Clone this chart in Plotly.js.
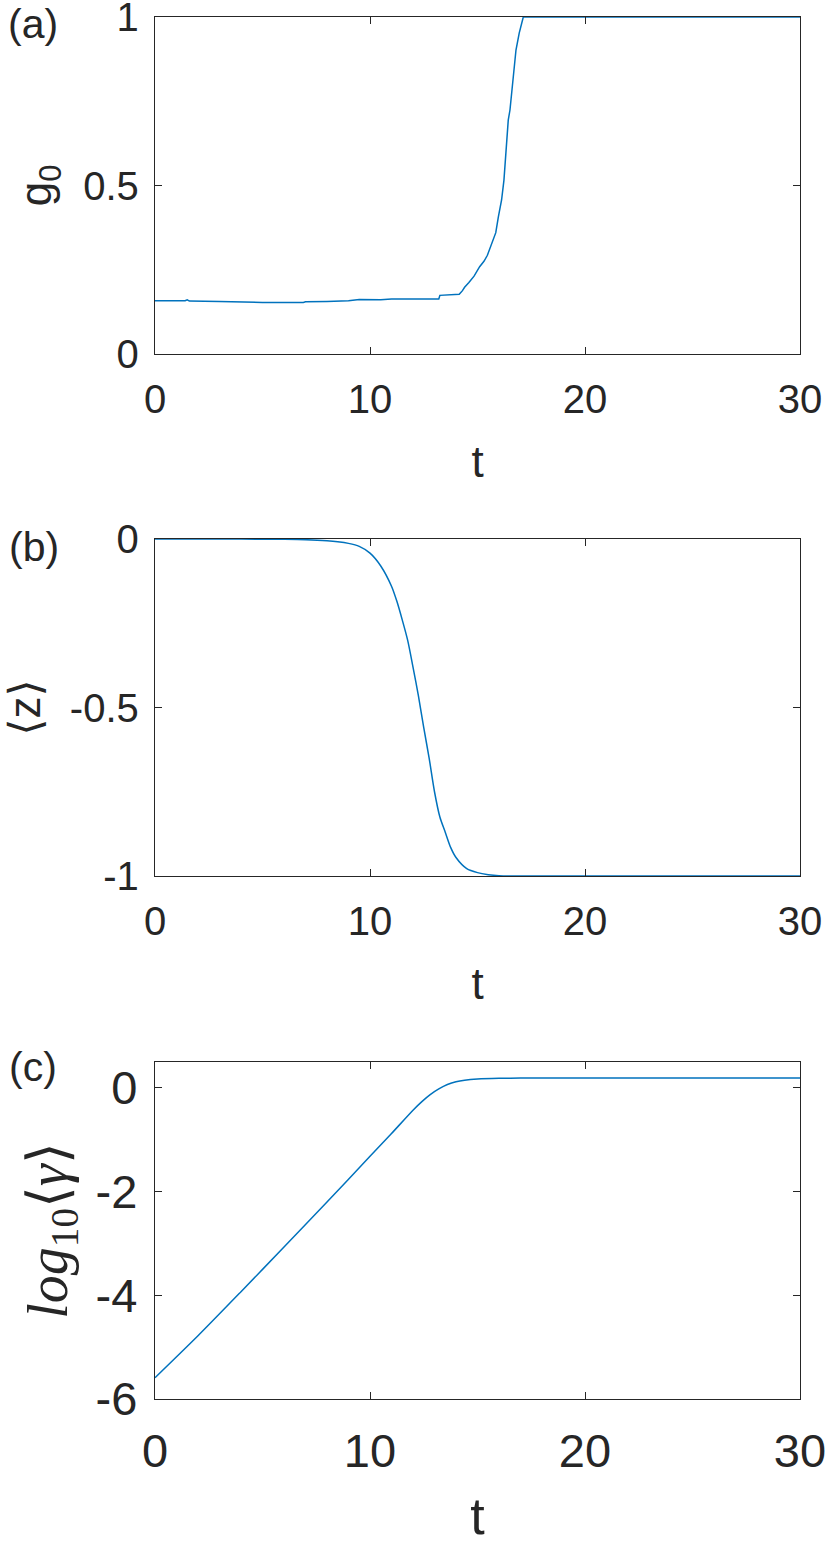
<!DOCTYPE html>
<html>
<head>
<meta charset="utf-8">
<script src="https://cdn.plot.ly/plotly-3.0.1.min.js"></script>
<style>html,body{margin:0;padding:0;background:#fff;}#chart{width:831px;height:1545px;}</style>
</head>
<body>
<div id="chart"></div>
<script>
// Panel (a): g0 vs t
const tA = [0, 1.4, 1.5, 1.6, 3, 4.5, 5, 6.9, 7, 8, 9, 9.5, 10.5, 11, 13.2, 13.25, 13.8, 14.15, 14.3, 14.4, 14.6, 14.84, 15.1, 15.3, 15.46, 15.6, 15.74, 15.85, 15.97, 16.05, 16.12, 16.23, 16.33, 16.43, 16.51, 16.63, 16.79, 16.94, 17.05, 17.13, 30];
const gA = [0.158, 0.158, 0.161, 0.157, 0.156, 0.154, 0.153, 0.153, 0.155, 0.156, 0.158, 0.162, 0.161, 0.163, 0.163, 0.174, 0.175, 0.177, 0.188, 0.198, 0.212, 0.231, 0.259, 0.275, 0.293, 0.315, 0.338, 0.36, 0.407, 0.43, 0.457, 0.516, 0.605, 0.694, 0.724, 0.804, 0.902, 0.952, 0.985, 1.0, 1.0];

// Panel (b): <z> vs t
const tB = [0, 4, 6, 7, 8, 8.5, 9, 9.5, 10, 10.5, 11, 11.25, 11.5, 11.75, 12, 12.25, 12.5, 12.75, 13, 13.25, 13.5, 13.75, 14, 14.5, 15, 15.5, 16, 17, 30];
const zB = [0, -0.0003, -0.001, -0.002, -0.005, -0.008, -0.013, -0.022, -0.042, -0.08, -0.14, -0.185, -0.24, -0.30, -0.38, -0.465, -0.56, -0.65, -0.75, -0.825, -0.87, -0.915, -0.945, -0.978, -0.99, -0.996, -0.999, -1, -1];

// Panel (c): log10<gamma> vs t
const tC = [0, 2, 4, 6, 8, 10, 11, 12, 12.4, 12.8, 13.2, 13.6, 14, 14.4, 15, 16, 17, 20, 30];
const lC = [-5.59, -4.78, -3.93, -3.07, -2.2, -1.32, -0.88, -0.43, -0.27, -0.13, -0.02, 0.065, 0.12, 0.15, 0.172, 0.185, 0.19, 0.19, 0.19];

const xTicks = [0, 10, 20, 30];
const yTicksA = [0, 0.5, 1];
const yTicksB = [-1, -0.5, 0];
const yTicksC = [-6, -4, -2, 0];
const panelLabels = ['(a)', '(b)', '(c)'];

const lineColor = '#0072BD';
const axCol = '#262626';
const sans = 'Liberation Sans, Arial, Helvetica, sans-serif';

function xax(anchor, size, titleSize, standoff, tstand) {
  return {
    anchor: anchor, range: [0, 30], tickvals: xTicks, ticktext: xTicks.map(String),
    ticks: 'inside', ticklen: 7, tickwidth: 1, tickcolor: axCol,
    showline: true, linecolor: axCol, linewidth: 1.2, mirror: 'ticks',
    showgrid: false, zeroline: false, ticklabeloverflow: 'allow',
    tickfont: {size: size, color: axCol, family: sans},
    ticklabelstandoff: standoff,
    title: {text: 't', font: {size: titleSize, color: axCol, family: sans}, standoff: tstand}
  };
}
function yax(anchor, domain, range, ticks, size, title, titleFont, standoff, tstand) {
  return {
    anchor: anchor, domain: domain, range: range, tickvals: ticks, ticktext: ticks.map(String),
    ticks: 'inside', ticklen: 7, tickwidth: 1, tickcolor: axCol,
    showline: true, linecolor: axCol, linewidth: 1.2, mirror: 'ticks',
    showgrid: false, zeroline: false, ticklabeloverflow: 'allow',
    tickfont: {size: size, color: axCol, family: sans},
    ticklabelstandoff: standoff,
    title: {text: title, font: titleFont, standoff: tstand}
  };
}

const traces = [
  {x: tA, y: gA, xaxis: 'x', yaxis: 'y', type: 'scatter', mode: 'lines', line: {color: lineColor, width: 1.5}, hoverinfo: 'skip', cliponaxis: false},
  {x: tB, y: zB, xaxis: 'x2', yaxis: 'y2', type: 'scatter', mode: 'lines', line: {color: lineColor, width: 1.5, shape: 'spline', smoothing: 0.8}, hoverinfo: 'skip'},
  {x: tC, y: lC, xaxis: 'x3', yaxis: 'y3', type: 'scatter', mode: 'lines', line: {color: lineColor, width: 1.5, shape: 'spline', smoothing: 0.6}, hoverinfo: 'skip'}
];

const H = 1382; // plot-area total height in px
function py(pix) { return (1399 - pix) / H; }
function px(pix) { return (pix - 155) / 645; }

const layout = {
  width: 831, height: 1545, autosize: false,
  margin: {l: 155, r: 31, t: 17, b: 146, pad: 0},
  paper_bgcolor: '#fff', plot_bgcolor: '#fff',
  showlegend: false,
  font: {family: sans, color: axCol},
  xaxis: xax('y', 40, 44, 10, 26),
  yaxis: yax('x', [py(354), 1], [0, 1.00001], yTicksA, 40, 'g<sub>0</sub>', {size: 44, color: axCol, family: sans}, 7, 17),
  xaxis2: xax('y2', 40, 44, 10, 26),
  yaxis2: yax('x2', [py(876), py(539)], [-1, 0.00001], yTicksB, 40, '⟨z⟩', {size: 44, color: axCol, family: 'Liberation Sans, DejaVu Sans, sans-serif'}, 7, 17),
  xaxis3: xax('y3', 47, 52, 10, 30),
  yaxis3: yax('x3', [0, py(1062)], [-6, 0.5], yTicksC, 47, '<i>log</i><sub>10</sub>⟨<i>γ</i>⟩', {size: 56, color: axCol, family: 'Liberation Serif, DejaVu Serif, serif'}, 7, 10),
  annotations: [
    {text: panelLabels[0], xref: 'paper', yref: 'paper', x: px(6), y: py(23.5), xanchor: 'left', yanchor: 'middle', showarrow: false, font: {size: 41, color: axCol, family: sans}},
    {text: panelLabels[1], xref: 'paper', yref: 'paper', x: px(7), y: py(546.5), xanchor: 'left', yanchor: 'middle', showarrow: false, font: {size: 41, color: axCol, family: sans}},
    {text: panelLabels[2], xref: 'paper', yref: 'paper', x: px(7), y: py(1067), xanchor: 'left', yanchor: 'middle', showarrow: false, font: {size: 41, color: axCol, family: sans}}
  ]
};

Plotly.newPlot('chart', traces, layout, {displayModeBar: false, staticPlot: true});
</script>
</body>
</html>
